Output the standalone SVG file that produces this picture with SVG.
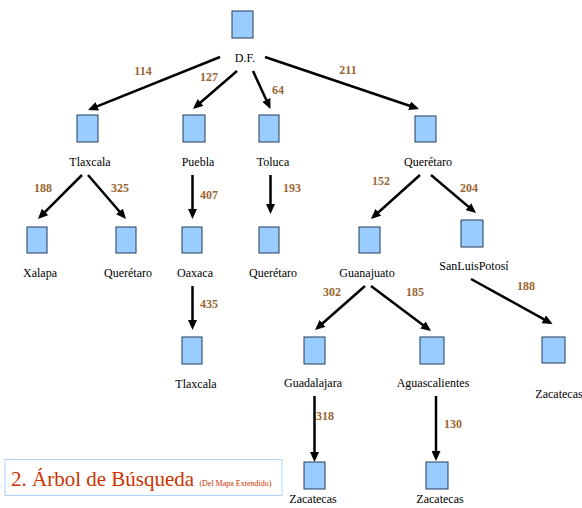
<svg xmlns="http://www.w3.org/2000/svg" width="582" height="508" viewBox="0 0 582 508">
<style>
.b{fill:#99ccff;stroke:#253a5c;stroke-width:1}
.t{font-family:'Liberation Serif',serif;font-size:12px;fill:#000;text-anchor:middle}
.w{font-family:'Liberation Serif',serif;font-size:12px;font-weight:bold;fill:#996633;text-anchor:middle}
.e{stroke:#000;stroke-width:2.5;fill:none;marker-end:url(#ah)}
</style>
<defs>
<marker id="ah" markerUnits="userSpaceOnUse" markerWidth="10" markerHeight="9" viewBox="0 0 10 9" refX="7" refY="4.5" orient="auto">
<path d="M0,0 L10,4.5 L0,9 z" fill="#000"/>
</marker>
</defs>
<rect width="582" height="508" fill="#fff"/>
<g id="connectors">
<line class="e" x1="220" y1="57" x2="90.8" y2="108.9"/>
<line class="e" x1="237" y1="71" x2="195.3" y2="107"/>
<line class="e" x1="253" y1="71" x2="269.2" y2="106.3"/>
<line class="e" x1="265" y1="57" x2="416.2" y2="108"/>
<line class="e" x1="82" y1="175" x2="40.1" y2="216.9"/>
<line class="e" x1="88" y1="175" x2="124" y2="216.7"/>
<line class="e" x1="192.5" y1="175" x2="192.5" y2="216"/>
<line class="e" x1="270.5" y1="175" x2="270.5" y2="211"/>
<line class="e" x1="420" y1="175" x2="373.2" y2="217"/>
<line class="e" x1="431" y1="175" x2="473.7" y2="211.1"/>
<line class="e" x1="192.5" y1="286" x2="192.5" y2="327"/>
<line class="e" x1="365" y1="286" x2="317.3" y2="328"/>
<line class="e" x1="371" y1="286" x2="428.6" y2="329.2"/>
<line class="e" x1="471" y1="279" x2="549.9" y2="322.6"/>
<line class="e" x1="314.5" y1="396" x2="314.5" y2="459"/>
<line class="e" x1="436" y1="396" x2="436" y2="458"/>
<text class="w" x="143" y="75">114</text>
<text class="w" x="209" y="81">127</text>
<text class="w" x="278" y="94">64</text>
<text class="w" x="348" y="74">211</text>
<text class="w" x="43" y="192">188</text>
<text class="w" x="120" y="192">325</text>
<text class="w" x="209" y="199">407</text>
<text class="w" x="292" y="192">193</text>
<text class="w" x="381" y="185">152</text>
<text class="w" x="469" y="192">204</text>
<text class="w" x="209" y="308">435</text>
<text class="w" x="332" y="296">302</text>
<text class="w" x="415" y="296">185</text>
<text class="w" x="526" y="290">188</text>
<text class="w" x="325" y="420">318</text>
<text class="w" x="453" y="428">130</text>
</g>
<g id="n-df"><rect class="b" x="232" y="11" width="21" height="27"/><text class="t" x="245" y="62">D.F.</text></g>
<g id="n-tlaxcala"><rect class="b" x="77" y="115" width="21" height="27"/><text class="t" x="90" y="166">Tlaxcala</text></g>
<g id="n-puebla"><rect class="b" x="183" y="115" width="22" height="27"/><text class="t" x="198" y="166">Puebla</text></g>
<g id="n-toluca"><rect class="b" x="259" y="115" width="20" height="27"/><text class="t" x="273" y="166">Toluca</text></g>
<g id="n-queretaro"><rect class="b" x="415" y="116" width="21" height="26"/><text class="t" x="428" y="166">Querétaro</text></g>
<g id="n-xalapa"><rect class="b" x="27" y="227" width="20" height="26"/><text class="t" x="40" y="277">Xalapa</text></g>
<g id="n-queretaro2"><rect class="b" x="116" y="227" width="20" height="26"/><text class="t" x="128" y="277">Querétaro</text></g>
<g id="n-oaxaca"><rect class="b" x="182" y="227" width="20" height="26"/><text class="t" x="195" y="277">Oaxaca</text></g>
<g id="n-queretaro3"><rect class="b" x="259" y="227" width="20" height="26"/><text class="t" x="273" y="277">Querétaro</text></g>
<g id="n-guanajuato"><rect class="b" x="359" y="227" width="21" height="26"/><text class="t" x="367" y="277">Guanajuato</text></g>
<g id="n-slp"><rect class="b" x="461" y="220" width="22" height="27"/><text class="t" x="474" y="270">SanLuisPotosí</text></g>
<g id="n-tlaxcala2"><rect class="b" x="182" y="337" width="20" height="27"/><text class="t" x="196" y="388">Tlaxcala</text></g>
<g id="n-guadalajara"><rect class="b" x="304" y="337" width="21" height="27"/><text class="t" x="313" y="387">Guadalajara</text></g>
<g id="n-aguascalientes"><rect class="b" x="420" y="337" width="24" height="27"/><text class="t" x="433" y="387">Aguascalientes</text></g>
<g id="n-zacatecas1"><rect class="b" x="542" y="337" width="23" height="26"/><text class="t" x="559" y="398">Zacatecas</text></g>
<g id="n-zacatecas2"><rect class="b" x="304" y="462" width="21" height="27"/><text class="t" x="313" y="503">Zacatecas</text></g>
<g id="n-zacatecas3"><rect class="b" x="426" y="462" width="22" height="27"/><text class="t" x="440" y="503">Zacatecas</text></g>
<g id="title">
<rect x="5" y="459.5" width="277" height="36" fill="#fff" stroke="#aad4ff" stroke-width="1"/>
<text x="11" y="486" font-family="'Liberation Serif',serif" font-size="21" fill="#cc3300">2. Árbol de Búsqueda <tspan font-size="8">(Del Mapa Extendido)</tspan></text>
</g>
</svg>
